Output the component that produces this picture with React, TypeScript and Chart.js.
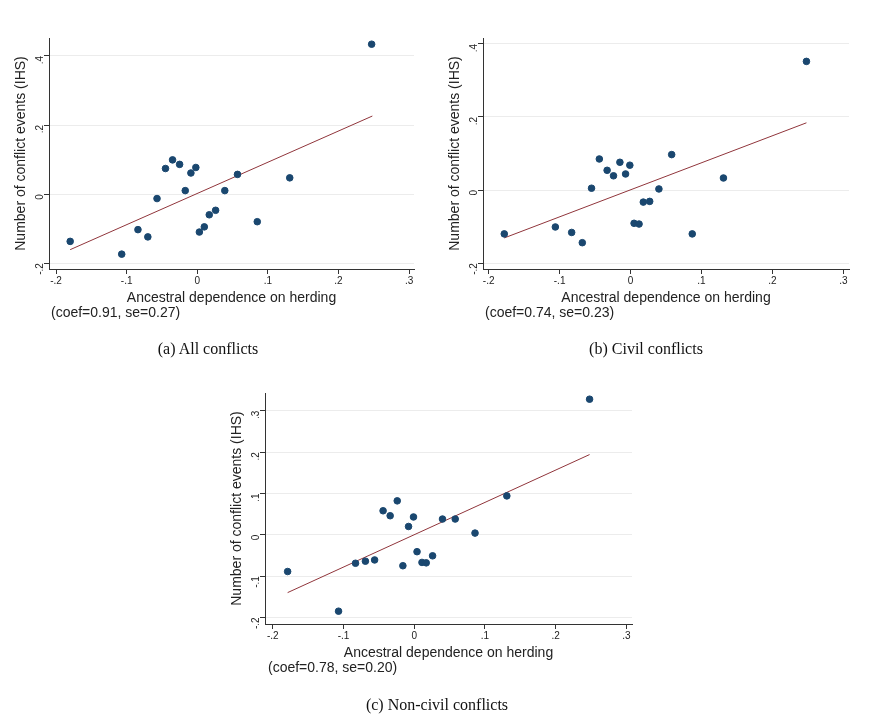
import React, { useEffect, useRef } from "react";
import { Chart, registerables } from "chart.js";
Chart.register(...registerables);

// Panel (a) All conflicts
const xA = [-0.180, -0.107, -0.084, -0.070, -0.057, -0.045, -0.035, -0.025, -0.017, -0.009, -0.002, 0.003, 0.010, 0.017, 0.026, 0.039, 0.057, 0.085, 0.131, 0.247];
const yA = [-0.137, -0.174, -0.103, -0.124, -0.013, 0.074, 0.099, 0.086, 0.010, 0.061, 0.077, -0.110, -0.095, -0.060, -0.047, 0.010, 0.057, -0.080, 0.047, 0.434];
const fitA = [[-0.18, -0.161], [0.248, 0.226]];
// Panel (b) Civil conflicts
const xB = [-0.178, -0.106, -0.083, -0.068, -0.055, -0.044, -0.033, -0.024, -0.015, -0.007, -0.001, 0.005, 0.012, 0.018, 0.027, 0.040, 0.058, 0.087, 0.131, 0.248];
const yB = [-0.120, -0.101, -0.116, -0.144, 0.005, 0.085, 0.054, 0.039, 0.076, 0.044, 0.068, -0.091, -0.093, -0.033, -0.031, 0.003, 0.097, -0.120, 0.033, 0.352];
const fitB = [[-0.178, -0.131], [0.248, 0.184]];
// Panel (c) Non-civil conflicts
const xC = [-0.179, -0.107, -0.083, -0.069, -0.056, -0.044, -0.034, -0.024, -0.016, -0.008, -0.001, 0.004, 0.011, 0.017, 0.026, 0.040, 0.058, 0.086, 0.131, 0.248];
const yC = [-0.089, -0.185, -0.069, -0.064, -0.061, 0.058, 0.046, 0.082, -0.075, 0.020, 0.043, -0.041, -0.067, -0.068, -0.051, 0.038, 0.038, 0.004, 0.094, 0.328];
const fitC = [[-0.179, -0.140], [0.248, 0.194]];

const xTicks = [-0.2, -0.1, 0, 0.1, 0.2, 0.3];
const yTicksAB = [-0.2, 0, 0.2, 0.4];
const yTicksC = [-0.2, -0.1, 0, 0.1, 0.2, 0.3];

const xTitle = "Ancestral dependence on herding";
const yTitle = "Number of conflict events (IHS)";

const fmt = (v: number) => {
  if (Math.abs(v) < 1e-9) return "0";
  const s = (Math.round(v * 10) / 10).toString();
  return s.replace("0.", ".");
};

type P = {
  xs: number[]; ys: number[]; fit: number[][]; yTicks: number[];
  xr: [number, number]; yr: [number, number];
  left: number; top: number; right: number; bottom: number;
};

function Panel(p: P) {
  const ref = useRef<HTMLCanvasElement>(null);
  useEffect(() => {
    const pts = p.xs.map((x, i) => ({ x, y: p.ys[i] }));
    const ch = new Chart(ref.current!, {
      type: "scatter",
      data: {
        datasets: [
          { data: pts, backgroundColor: "#1a476f", borderColor: "#1a476f", pointRadius: 3.3, pointHoverRadius: 3.3 },
          { type: "line", data: p.fit.map(([x, y]) => ({ x, y })), borderColor: "#90353b", borderWidth: 1, pointRadius: 0, fill: false } as any,
        ],
      },
      options: {
        animation: false, responsive: false,
        layout: { padding: { left: p.left - 36, top: p.top, right: p.right, bottom: p.bottom - 38 } },
        plugins: { legend: { display: false }, tooltip: { enabled: false } },
        scales: {
          x: {
            type: "linear", min: p.xr[0], max: p.xr[1],
            afterBuildTicks: (s: any) => { s.ticks = xTicks.map((v) => ({ value: v })); },
            afterFit: (s: any) => { s.height = 38; },
            ticks: { callback: (v: any) => fmt(Number(v)), color: "#222", font: { family: "Liberation Sans", size: 10 }, padding: 1, maxRotation: 0 },
            grid: { drawOnChartArea: false, color: "#333", tickLength: 5, tickColor: "#333" },
            border: { color: "#333", width: 1 },
            title: { display: true, text: xTitle, color: "#222", font: { family: "Liberation Sans", size: 14 }, padding: { top: 0, bottom: 0 } },
          },
          y: {
            type: "linear", min: p.yr[0], max: p.yr[1],
            afterBuildTicks: (s: any) => { s.ticks = p.yTicks.map((v) => ({ value: v })); },
            afterFit: (s: any) => { s.width = 36; },
            ticks: { callback: (v: any) => fmt(Number(v)), color: "#222", font: { family: "Liberation Sans", size: 10 }, minRotation: 90, maxRotation: 90, padding: 4 },
            grid: { color: "#ececec", tickLength: 5, tickColor: "#333" },
            border: { color: "#333", width: 1 },
            title: { display: true, text: yTitle, color: "#222", font: { family: "Liberation Sans", size: 14 }, padding: { top: 0, bottom: 0 } },
          },
        },
      },
    });
    return () => ch.destroy();
  }, []);
  return <canvas ref={ref} width={430} height={300} style={{ width: 430, height: 300, display: "block" }} />;
}

const cap: React.CSSProperties = { position: "absolute", fontFamily: "Liberation Serif", fontSize: 16, color: "#111", whiteSpace: "nowrap", transform: "translateX(-50%)" };
const note: React.CSSProperties = { position: "absolute", fontFamily: "Liberation Sans", fontSize: 14, color: "#222", whiteSpace: "nowrap" };

export default function App() {
  return (
    <div style={{ position: "absolute", left: 0, top: 0, width: 893, height: 715, background: "#fff", overflow: "hidden" }}>
      <div style={{ position: "absolute", left: 0, top: 20 }}>
        <Panel xs={xA} ys={yA} fit={fitA} yTicks={yTicksAB} xr={[-0.21, 0.307]} yr={[-0.217, 0.452]} left={49} top={18} right={16} bottom={51} />
      </div>
      <div style={{ ...note, left: 51, top: 304 }}>(coef=0.91, se=0.27)</div>
      <div style={{ ...cap, left: 208, top: 340 }}>(a) All conflicts</div>

      <div style={{ position: "absolute", left: 440, top: 20 }}>
        <Panel xs={xB} ys={yB} fit={fitB} yTicks={yTicksAB} xr={[-0.208, 0.308]} yr={[-0.216, 0.416]} left={43} top={18} right={21} bottom={51} />
      </div>
      <div style={{ ...note, left: 485, top: 304 }}>(coef=0.74, se=0.23)</div>
      <div style={{ ...cap, left: 646, top: 340 }}>(b) Civil conflicts</div>

      <div style={{ position: "absolute", left: 220, top: 380 }}>
        <Panel xs={xC} ys={yC} fit={fitC} yTicks={yTicksC} xr={[-0.211, 0.308]} yr={[-0.216, 0.343]} left={45} top={13} right={18} bottom={56} />
      </div>
      <div style={{ ...note, left: 268, top: 659 }}>(coef=0.78, se=0.20)</div>
      <div style={{ ...cap, left: 437, top: 696 }}>(c) Non-civil conflicts</div>
    </div>
  );
}
